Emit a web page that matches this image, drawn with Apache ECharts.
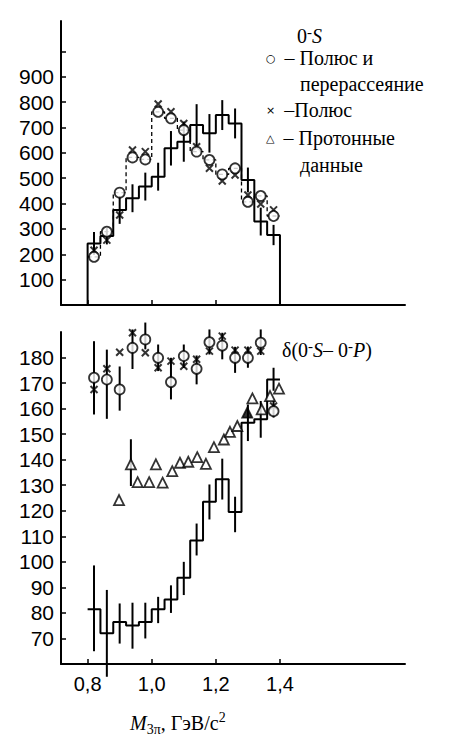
<!DOCTYPE html>
<html><head><meta charset="utf-8">
<script src="https://cdn.jsdelivr.net/npm/echarts@6/dist/echarts.min.js"></script>
<style>html,body{margin:0;padding:0;background:#fff}#c{width:450px;height:738px}</style>
</head><body><div id="c"></div>
<script>
// ---------- data ----------
const binEdges = [0.80,0.84,0.88,0.92,0.96,1.00,1.04,1.08,1.12,1.16,1.20,1.24,1.28,1.32,1.36,1.40];
// top panel: 0-S intensity
const topHist    = [243, 272, 375, 421, 467, 506, 618, 644, 710, 677, 749, 716, 493, 329, 276];
const topHistErr = [45, 33, 55, 55, 55, 55, 68, 79, 82, 76, 59, 59, 49, 55, 40];
const topDashed  = [190, 289, 443, 582, 574, 762, 736, 690, 605, 572, 515, 539, 407, 430, 351];
const topCircles = [190, 289, 443, 582, 574, 762, 736, 690, 605, 572, 515, 539, 407, 430, 351];
const topCrosses = [216, 256, 355, 611, 605, 793, 762, 716, 624, 539, 489, 513, 434, 398, 375];
// bottom panel: phase difference
const botHist    = [81.4, 72, 76.4, 75.1, 76.4, 81.4, 85.3, 93.8, 108.4, 123.5, 132.3, 119.5, 154.5, 155.8, 171.4];
const botHistLo  = [65, 55, 68, 66, 70, 76, 80, 87, 102.5, 116.6, 124.4, 111.6, 147.3, 148.6, 167];
const botHistHi  = [98.6, 89, 83.7, 84, 84, 86.3, 90.8, 100, 115, 130.3, 140.4, 125.5, 161.6, 163, 176];
const botCircles = [172.1, 171.4, 167.5, 183.8, 187.1, 179.9, 170.4, 180.6, 175.6, 186, 184.7, 179.9, 179.9, 185.8, 159];
const botCircleLo= [157.7, 156, 159.2, 175.5, 183.2, 174.7, 163.6, 175.9, 169.5, 181.2, 179.3, 174, 176, 181, 156.5];
const botCircleHi= [186.4, 183.1, 176.5, 191, 193.7, 185.1, 179.9, 185.1, 180.8, 191, 189.7, 184.2, 184.3, 191, 163.6];
const botCrosses = [167.5, 175.6, 182.1, 189.7, 181.9, 176, 178.6, 176.6, 179.3, 182.5, 188.4, 182.9, 182.9, 182.5, 161];
const protonX = [0.898, 0.935, 0.956, 0.992, 1.013, 1.034, 1.064, 1.088, 1.114, 1.142, 1.169, 1.194, 1.225, 1.244, 1.267, 1.298, 1.314, 1.343, 1.369, 1.397];
const protonY = [124.2, 138.2, 131.2, 131.2, 138.2, 131, 135.5, 138.8, 139.2, 141, 138.4, 144.9, 147.9, 150.9, 153.2, 158.4, 164, 159.7, 164.9, 167.8];
const protonFilled = [0,0,0,0,0,0,0,0,0,0,0,0,0,0,0,1,0,0,0,0];
const protonErrX = [0.935], protonErrLo = [129.7], protonErrHi = [148];
// ticks
const xTicks = [0.8, 1.0, 1.2, 1.4];
const topYTicks = [100,200,300,400,500,600,700,800,900,1000];
const topYLabels = [100,200,300,400,500,600,700,800,900];
const botYTicks = [70,80,90,100,110,120,130,140,150,160,170,180];

// ---------- helpers ----------
const centers = binEdges.slice(0, -1).map((e, i) => (e + binEdges[i + 1]) / 2);
function stepPts(vals, base) {
  const pts = [[binEdges[0], base === null ? vals[0] : base]];
  vals.forEach((v, i) => pts.push([binEdges[i + 1], v]));
  if (base !== null) pts.push([binEdges[binEdges.length - 1], base]);
  return pts;
}
function errSeries(idx, data, w) {
  return {
    type: 'custom', xAxisIndex: idx, yAxisIndex: idx, data: data, z: 2, clip: false,
    encode: { x: 0, y: [1, 2] },
    renderItem: function (params, api) {
      const a = api.coord([api.value(0), api.value(1)]);
      const b = api.coord([api.value(0), api.value(2)]);
      return { type: 'line', shape: { x1: a[0], y1: a[1], x2: b[0], y2: b[1] },
               style: { stroke: '#000', lineWidth: w } };
    }
  };
}
const serif = '"Liberation Serif", "DejaVu Serif", serif';
const sans = '"Liberation Sans", Arial, sans-serif';
const crossPath = 'path://M0,0L10,10M10,0L0,10';
const circleStyle = { color: '#fff', borderColor: '#000', borderWidth: 1.8 };
const crossStyle = { color: 'none', borderColor: '#000', borderWidth: 2 };

const xMin = 0.717, xMax = 1.79;
function xAxis(idx, showLabels) {
  return {
    type: 'value', gridIndex: idx, min: xMin, max: xMax,
    axisLine: { show: true, onZero: false, lineStyle: { color: '#000', width: 2 } },
    axisTick: { show: true, inside: true, length: 5, customValues: xTicks, lineStyle: { color: '#000', width: 1.5 } },
    axisLabel: { show: showLabels, customValues: xTicks, margin: 10, color: '#000', fontFamily: sans, fontSize: 20,
                 formatter: v => v.toFixed(1).replace('.', ',') },
    splitLine: { show: false }
  };
}
function yAxis(idx, min, max, ticks, labels) {
  return {
    type: 'value', gridIndex: idx, min: min, max: max,
    axisLine: { show: true, onZero: false, lineStyle: { color: '#000', width: 2 } },
    axisTick: { show: true, inside: true, length: 5, customValues: ticks, lineStyle: { color: '#000', width: 1.5 } },
    axisLabel: { show: true, customValues: labels, margin: 7, color: '#000', fontFamily: sans, fontSize: 21 },
    splitLine: { show: false }
  };
}
const txt = { fontFamily: serif, fontSize: 20, fill: '#000', lineHeight: 24, verticalAlign: 'middle' };
const txtI = Object.assign({}, txt, { fontStyle: 'italic' });
const supMinus = { fontFamily: serif, fontSize: 15, fill: '#000', lineHeight: 12, verticalAlign: 'top' };
const sym = { fontFamily: '"DejaVu Sans", sans-serif', fontSize: 11, fill: '#000', lineHeight: 24, verticalAlign: 'middle', padding: [0, 4, 0, 0] };

const option = {
  animation: false,
  backgroundColor: '#fff',
  grid: [
    { left: 61, top: 21, width: 344, height: 284 },
    { left: 61, top: 332, width: 344, height: 332 }
  ],
  xAxis: [xAxis(0, false), xAxis(1, true)],
  yAxis: [yAxis(0, 0, 1120, topYTicks, topYLabels), yAxis(1, 60, 190, botYTicks, botYTicks)],
  series: [
    // top panel
    { type: 'line', xAxisIndex: 0, yAxisIndex: 0, step: 'start', symbol: 'none', data: stepPts(topHist, 0),
      lineStyle: { color: '#000', width: 2 }, z: 3 },
    { type: 'line', xAxisIndex: 0, yAxisIndex: 0, step: 'start', symbol: 'none', data: stepPts(topDashed, null),
      lineStyle: { color: '#000', width: 1.3, type: [4, 3] }, z: 3 },
    errSeries(0, centers.map((c, i) => [c, topHist[i] - topHistErr[i], topHist[i] + topHistErr[i]]), 2),
    { type: 'scatter', xAxisIndex: 0, yAxisIndex: 0, symbol: crossPath, symbolSize: 7,
      data: centers.map((c, i) => [c, topCrosses[i]]), itemStyle: crossStyle, z: 5 },
    { type: 'scatter', xAxisIndex: 0, yAxisIndex: 0, symbol: 'circle', symbolSize: 10,
      data: centers.map((c, i) => [c, topCircles[i]]), itemStyle: circleStyle, z: 6 },
    // bottom panel
    { type: 'line', xAxisIndex: 1, yAxisIndex: 1, step: 'start', symbol: 'none', data: stepPts(botHist, null),
      lineStyle: { color: '#000', width: 2 }, z: 3 },
    errSeries(1, centers.map((c, i) => [c, botHistLo[i], botHistHi[i]]), 2),
    errSeries(1, centers.map((c, i) => [c, botCircleLo[i], botCircleHi[i]]), 2),
    errSeries(1, protonErrX.map((x, i) => [x, protonErrLo[i], protonErrHi[i]]), 2),
    { type: 'scatter', xAxisIndex: 1, yAxisIndex: 1, symbol: crossPath, symbolSize: 7,
      data: centers.map((c, i) => [c, botCrosses[i]]), itemStyle: crossStyle, z: 5 },
    { type: 'scatter', xAxisIndex: 1, yAxisIndex: 1, symbol: 'circle', symbolSize: 10,
      data: centers.map((c, i) => [c, botCircles[i]]), itemStyle: circleStyle, z: 6 },
    { type: 'scatter', xAxisIndex: 1, yAxisIndex: 1, symbol: 'triangle', symbolSize: 10,
      data: protonX.map((x, i) => ({ value: [x, protonY[i]],
        itemStyle: protonFilled[i] ? { color: '#000', borderColor: '#000', borderWidth: 1.8 } : { color: '#fff', borderColor: '#000', borderWidth: 1.8 } })),
      z: 6 }
  ],
  graphic: [
    { type: 'text', left: 297, top: 24, style: { text: '{a|0}{b|-}{c|S}', rich: { a: txt, b: supMinus, c: txtI } } },
    { type: 'text', left: 266, top: 48, style: { text: '{s|○}{t| – Полюс и}', rich: { s: sym, t: txt } } },
    { type: 'text', left: 300, top: 74, style: { text: 'перерассеяние', font: '20px ' + serif, fill: '#000' } },
    { type: 'text', left: 266, top: 100, style: { text: '{s|×}{t| –Полюс}', rich: { s: sym, t: txt } } },
    { type: 'text', left: 266, top: 128, style: { text: '{s|△}{t| – Протонные}', rich: { s: sym, t: txt } } },
    { type: 'text', left: 300, top: 155, style: { text: 'данные', font: '20px ' + serif, fill: '#000' } },
    { type: 'text', left: 282, top: 338, style: { text: '{t|δ(0}{b|-}{i|S}{t|– 0}{b|-}{i|P}{t|)}', rich: { t: txt, b: supMinus, i: txtI } } },
    { type: 'text', left: 130, top: 710, style: { text: '{m|M}{s|3π}{r|, ГэВ/с}{p|2}', rich: {
      m: { fontFamily: serif, fontSize: 20, fontStyle: 'italic', fill: '#000', lineHeight: 26, verticalAlign: 'middle' },
      s: { fontFamily: serif, fontSize: 14, fill: '#000', lineHeight: 14, verticalAlign: 'bottom' },
      r: { fontFamily: serif, fontSize: 20, fill: '#000', lineHeight: 26, verticalAlign: 'middle' },
      p: { fontFamily: serif, fontSize: 14, fill: '#000', lineHeight: 14, verticalAlign: 'top' } } } }
  ]
};
const chart = echarts.init(document.getElementById('c'), null, { renderer: 'svg' });
chart.setOption(option);
</script></body></html>
